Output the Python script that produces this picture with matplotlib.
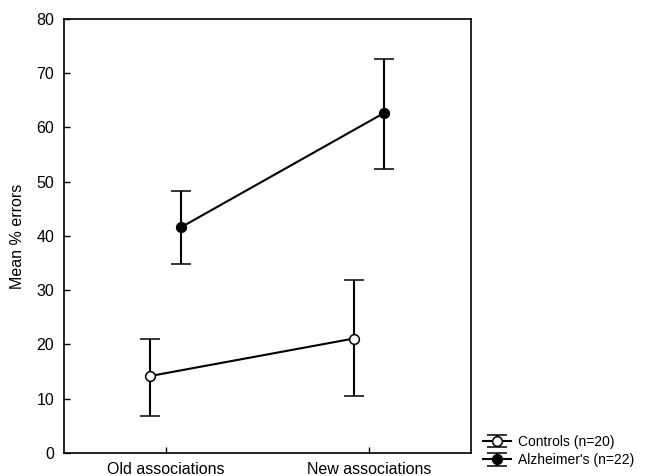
import numpy as np
import matplotlib
matplotlib.use("Agg")
import matplotlib.pyplot as plt
from matplotlib.legend_handler import HandlerErrorbar

plt.rcParams["font.family"] = ["Liberation Sans", "DejaVu Sans"]

# ----------------------------------------------------------------------
# Data (mean % errors, with error-bar limits)
# ----------------------------------------------------------------------
conditions = ["Old associations", "New associations"]
groups = ["Controls (n=20)", "Alzheimer's (n=22)"]

controls_mean = [14.2, 21.1]
controls_low = [6.9, 10.5]
controls_high = [21.1, 31.9]

alz_mean = [41.6, 62.7]
alz_low = [34.8, 52.3]
alz_high = [48.3, 72.6]

x = np.arange(len(conditions))
offset = 0.075

fig = plt.figure(figsize=(6.5, 4.76), dpi=100)
ax = fig.add_axes([0.0985, 0.0483, 0.626, 0.912])

c_err = [np.subtract(controls_mean, controls_low),
         np.subtract(controls_high, controls_mean)]
a_err = [np.subtract(alz_mean, alz_low),
         np.subtract(alz_high, alz_mean)]

style = dict(color="black", lw=1.5, elinewidth=1.5, capsize=7.5,
             capthick=1.5, marker="o", ms=7, mec="black", mew=1.1)
h_ctrl = ax.errorbar(x - offset, controls_mean, yerr=c_err, mfc="white", **style)
h_alz = ax.errorbar(x + offset, alz_mean, yerr=a_err, mfc="black", **style)

ax.set_xlim(-0.5, 1.5)
ax.set_ylim(0, 80)
ax.set_yticks(np.arange(0, 81, 10))
ax.set_xticks(x)
ax.set_xticklabels(conditions)
ax.set_ylabel("Mean % errors", fontsize=11.5, labelpad=8)
ax.tick_params(direction="in", length=4, width=1, labelsize=11.5)
ax.tick_params(axis="y", pad=7)
ax.tick_params(axis="x", pad=6.5)
for s in ax.spines.values():
    s.set_linewidth(1.2)

fig.legend([h_ctrl, h_alz], groups, loc="lower left",
           bbox_to_anchor=(0.728, -0.002), frameon=False, fontsize=10,
           handlelength=2.0, handletextpad=0.5, labelspacing=0.3,
           borderpad=0.2,
           handler_map={type(h_ctrl): HandlerErrorbar(yerr_size=0.45)})

fig.savefig("out.png", dpi=100)
